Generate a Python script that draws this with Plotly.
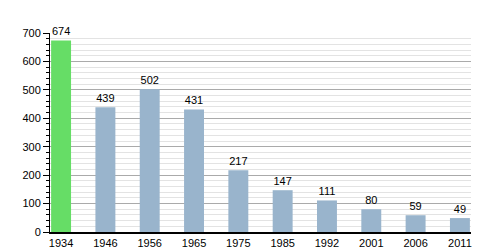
import plotly.graph_objects as go

years = ["1934", "1946", "1956", "1965", "1975", "1985", "1992", "2001", "2006", "2011"]
population = [674, 439, 502, 431, 217, 147, 111, 80, 59, 49]
bar_colors = ["#66dd66"] + ["#99b4cc"] * 9

fig = go.Figure(go.Bar(
    x=years, y=population,
    marker=dict(color=bar_colors, line=dict(width=0)),
    width=0.45,
    text=[str(v) for v in population],
    textposition="outside",
    textfont=dict(size=11, color="black", family="Liberation Sans, Arial"),
    cliponaxis=False,
))

fig.update_layout(
    width=500, height=250,
    margin=dict(l=50, r=29, t=33, b=18),
    plot_bgcolor="white", paper_bgcolor="white",
    font=dict(family="Liberation Sans, Arial", size=11, color="black"),
    showlegend=False,
    bargap=0.55,
)
fig.update_xaxes(
    type="category", range=[-0.25, 9.25], automargin=False,
    showline=True, linecolor="black", linewidth=1.5,
    ticks="", showgrid=False, tickfont=dict(size=11),
)
fig.update_yaxes(
    range=[0, 700], tick0=0, dtick=100, automargin=False,
    showline=True, linecolor="black", linewidth=1,
    ticks="outside", ticklen=6, tickcolor="black",
    showgrid=True, gridcolor="#aaaaaa", gridwidth=1,
    zeroline=False, tickfont=dict(size=11),
    minor=dict(dtick=20, ticks="outside", ticklen=3, tickcolor="black",
               showgrid=True, gridcolor="#e3e3e3", gridwidth=1),
)

fig.write_html("out.html")
